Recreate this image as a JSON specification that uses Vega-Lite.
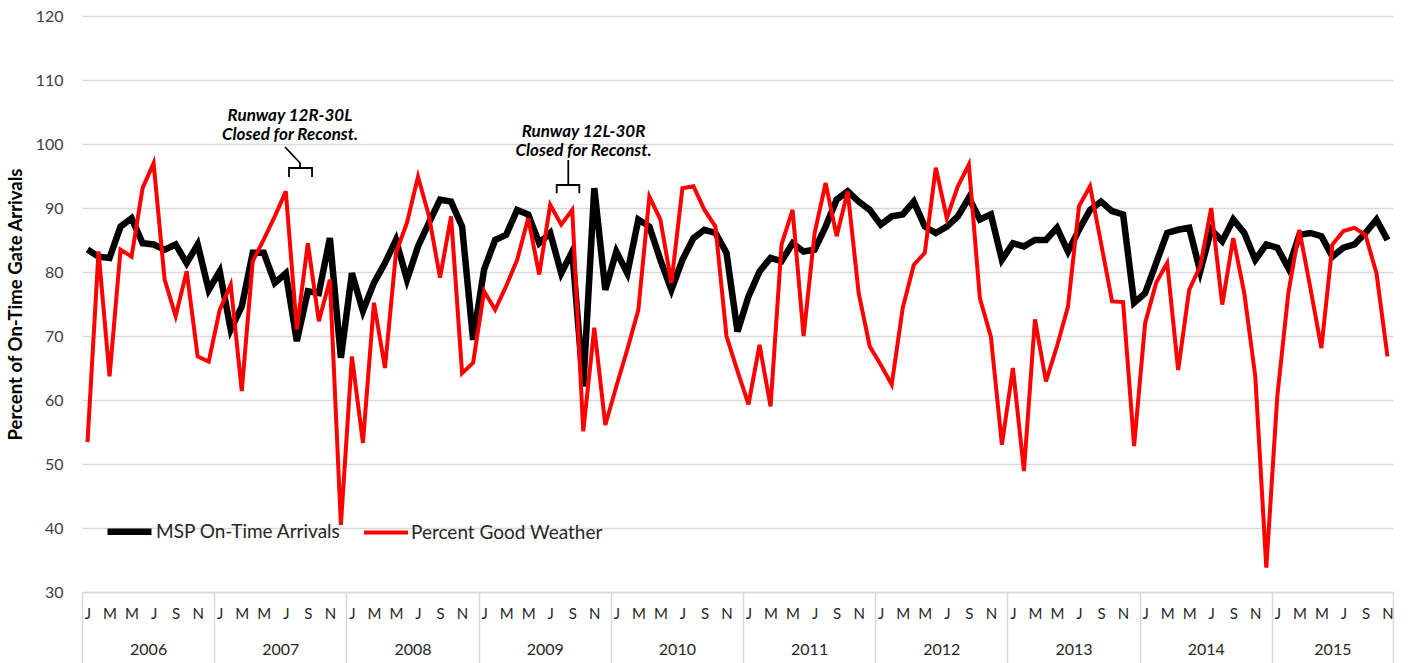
{
  "$schema": "https://vega.github.io/schema/vega-lite/v6.json",
  "width": 1311,
  "height": 576,
  "autosize": "none",
  "padding": {"left": 82, "top": 16, "right": 20, "bottom": 71},
  "background": "white",
  "config": {"view": {"stroke": null}, "font": "Lato"},
  "datasets": {
    "main": [
      {"m":0,"a":83.5,"w":53.4},{"m":1,"a":82.4,"w":83.2},{"m":2,"a":82.2,"w":63.7},{"m":3,"a":87.1,"w":83.5},{"m":4,"a":88.4,"w":82.4},{"m":5,"a":84.5,"w":93.1},{"m":6,"a":84.3,"w":97.0},{"m":7,"a":83.5,"w":78.8},{"m":8,"a":84.3,"w":73.1},{"m":9,"a":81.4,"w":80.1},{"m":10,"a":84.3,"w":66.8},{"m":11,"a":77.2,"w":66.0},
      {"m":12,"a":80.1,"w":74.1},{"m":13,"a":71.0,"w":78.0},{"m":14,"a":74.6,"w":61.4},{"m":15,"a":83.0,"w":81.7},{"m":16,"a":83.0,"w":85.1},{"m":17,"a":78.3,"w":88.7},{"m":18,"a":79.8,"w":92.6},{"m":19,"a":69.2,"w":71.0},{"m":20,"a":77.0,"w":84.5},{"m":21,"a":76.7,"w":72.3},{"m":22,"a":85.3,"w":78.8},{"m":23,"a":66.6,"w":40.5},
      {"m":24,"a":79.8,"w":66.8},{"m":25,"a":73.9,"w":53.3},{"m":26,"a":78.3,"w":75.2},{"m":27,"a":81.4,"w":65.0},{"m":28,"a":85.0,"w":83.0},{"m":29,"a":78.8,"w":87.7},{"m":30,"a":84.0,"w":94.9},{"m":31,"a":87.7,"w":88.7},{"m":32,"a":91.3,"w":79.1},{"m":33,"a":91.0,"w":88.7},{"m":34,"a":87.1,"w":64.2},{"m":35,"a":69.4,"w":65.8},
      {"m":36,"a":80.4,"w":77.0},{"m":37,"a":85.0,"w":74.1},{"m":38,"a":85.8,"w":77.8},{"m":39,"a":89.7,"w":81.9},{"m":40,"a":89.0,"w":88.4},{"m":41,"a":84.5,"w":79.6},{"m":42,"a":86.1,"w":90.5},{"m":43,"a":79.8,"w":87.4},{"m":44,"a":83.2,"w":89.7},{"m":45,"a":62.1,"w":55.1},{"m":46,"a":93.1,"w":71.3},{"m":47,"a":77.2,"w":56.1},
      {"m":48,"a":83.2,"w":62.1},{"m":49,"a":79.8,"w":67.9},{"m":50,"a":88.2,"w":74.1},{"m":51,"a":87.1,"w":91.8},{"m":52,"a":81.9,"w":88.2},{"m":53,"a":77.2,"w":78.3},{"m":54,"a":81.9,"w":93.1},{"m":55,"a":85.3,"w":93.4},{"m":56,"a":86.6,"w":89.7},{"m":57,"a":86.1,"w":87.1},{"m":58,"a":83.0,"w":70.0},{"m":59,"a":70.7,"w":64.5},
      {"m":60,"a":76.2,"w":59.3},{"m":61,"a":80.1,"w":68.6},{"m":62,"a":82.2,"w":59.0},{"m":63,"a":81.7,"w":84.3},{"m":64,"a":84.5,"w":89.7},{"m":65,"a":83.2,"w":70.0},{"m":66,"a":83.5,"w":86.1},{"m":67,"a":87.1,"w":93.9},{"m":68,"a":91.3,"w":85.6},{"m":69,"a":92.6,"w":92.6},{"m":70,"a":91.0,"w":76.7},{"m":71,"a":89.7,"w":68.4},
      {"m":72,"a":87.4,"w":65.5},{"m":73,"a":88.7,"w":62.4},{"m":74,"a":89.0,"w":74.4},{"m":75,"a":91.0,"w":81.1},{"m":76,"a":87.1,"w":83.0},{"m":77,"a":86.1,"w":96.3},{"m":78,"a":87.1,"w":88.4},{"m":79,"a":88.7,"w":93.4},{"m":80,"a":91.6,"w":96.8},{"m":81,"a":88.2,"w":75.9},{"m":82,"a":89.0,"w":69.9},{"m":83,"a":81.9,"w":53.0},
      {"m":84,"a":84.5,"w":65.0},{"m":85,"a":84.0,"w":48.9},{"m":86,"a":85.0,"w":72.6},{"m":87,"a":85.0,"w":62.9},{"m":88,"a":86.9,"w":68.4},{"m":89,"a":83.2,"w":74.6},{"m":90,"a":86.6,"w":90.3},{"m":91,"a":89.7,"w":93.4},{"m":92,"a":91.0,"w":84.5},{"m":93,"a":89.5,"w":75.4},{"m":94,"a":89.0,"w":75.3},{"m":95,"a":75.2,"w":52.8},
      {"m":96,"a":76.7,"w":72.0},{"m":97,"a":81.4,"w":78.3},{"m":98,"a":86.1,"w":81.4},{"m":99,"a":86.6,"w":64.7},{"m":100,"a":86.9,"w":77.2},{"m":101,"a":80.1,"w":80.9},{"m":102,"a":86.6,"w":90.0},{"m":103,"a":84.8,"w":74.9},{"m":104,"a":88.2,"w":85.3},{"m":105,"a":86.1,"w":76.7},{"m":106,"a":81.9,"w":63.7},{"m":107,"a":84.3,"w":33.8},
      {"m":108,"a":83.8,"w":60.6},{"m":109,"a":80.6,"w":76.7},{"m":110,"a":85.8,"w":86.6},{"m":111,"a":86.1,"w":77.5},{"m":112,"a":85.6,"w":68.1},{"m":113,"a":82.4,"w":84.3},{"m":114,"a":83.8,"w":86.4},{"m":115,"a":84.3,"w":86.9},{"m":116,"a":86.1,"w":85.8},{"m":117,"a":88.2,"w":79.8},{"m":118,"a":85.0,"w":66.8}
    ],
    "notes": [
      {"m":18.38,"v":104.35,"t":"Runway 12R-30L"},
      {"m":18.38,"v":101.38,"t":"Closed for Reconst."},
      {"m":45.02,"v":101.8,"t":"Runway 12L-30R"},
      {"m":45.02,"v":98.83,"t":"Closed for Reconst."}
    ],
    "brackets": [
      {"g":"b1a","o":1,"m":18.29,"v":94.84},{"g":"b1a","o":2,"m":18.29,"v":96.25},{"g":"b1a","o":3,"m":20.38,"v":96.25},{"g":"b1a","o":4,"m":20.38,"v":94.84},
      {"g":"b1b","o":1,"m":19.29,"v":96.25},{"g":"b1b","o":2,"m":19.29,"v":97.03},{"g":"b1b","o":3,"m":17.93,"v":99.53},
      {"g":"b2a","o":1,"m":42.59,"v":92.3},{"g":"b2a","o":2,"m":42.59,"v":93.59},{"g":"b2a","o":3,"m":44.64,"v":93.59},{"g":"b2a","o":4,"m":44.64,"v":92.3},
      {"g":"b2b","o":1,"m":43.64,"v":93.59},{"g":"b2b","o":2,"m":43.64,"v":97.5}
    ]
  },
  "encoding": {
    "y": {
      "field": "v", "type": "quantitative",
      "scale": {"domain": [30, 120], "nice": false, "zero": false},
      "axis": {
        "values": [30,40,50,60,70,80,90,100,110,120],
        "title": "Percent of On-Time Gate Arrivals",
        "titleFontSize": 18.5, "titleFontWeight": "bold", "titleColor": "#000000", "titleFont": "Lato", "titlePadding": 10,
        "labelFontSize": 16, "labelColor": "#404040", "labelFont": "Lato", "labelPadding": 19,
        "ticks": false, "domain": false, "grid": true, "gridColor": "#d9d9d9", "gridWidth": 1.5
      }
    }
  },
  "layer": [
    {
      "data": {"name": "main"},
      "transform": [{"fold": ["a", "w"], "as": ["s", "v"]}],
      "mark": {"type": "line"},
      "encoding": {
        "x": {
          "field": "m", "type": "quantitative",
          "scale": {"domain": [-0.5, 118.5], "nice": false, "zero": false},
          "axis": {
            "orient": "bottom", "title": null,
            "values": [0,2,4,6,8,10,12,14,16,18,20,22,24,26,28,30,32,34,36,38,40,42,44,46,48,50,52,54,56,58,60,62,64,66,68,70,72,74,76,78,80,82,84,86,88,90,92,94,96,98,100,102,104,106,108,110,112,114,116,118],
            "labelExpr": "['J','F','M','A','M','J','J','A','S','O','N','D'][datum.value % 12]",
            "ticks": false, "grid": false, "domain": true, "domainColor": "#d9d9d9", "domainWidth": 1.5,
            "labelPadding": 14, "labelFontSize": 15, "labelColor": "#262626", "labelFont": "Lato",
            "labelOverlap": false, "labelBound": false, "labelFlush": false
          }
        },
        "color": {
          "field": "s", "type": "nominal",
          "scale": {"domain": ["a", "w"], "range": ["#000000", "#ff0000"]},
          "legend": {
            "orient": "none", "legendX": 22, "legendY": 490, "direction": "horizontal", "title": null,
            "labelExpr": "datum.label == 'a' ? 'MSP On-Time Arrivals' : 'Percent Good Weather'",
            "symbolType": "stroke", "symbolSize": 1936, "symbolStrokeWidth": 5,
            "labelFontSize": 19, "labelFont": "Lato", "labelColor": "#262626", "labelOffset": 1, "labelLimit": 500, "columnPadding": 15
          }
        },
        "strokeWidth": {
          "field": "s", "type": "ordinal",
          "scale": {"domain": ["a", "w"], "range": [6.5, 4]},
          "legend": null
        }
      }
    },
    {
      "data": {"name": "notes"},
      "mark": {"type": "text", "fontStyle": "italic", "fontWeight": "bold", "fontSize": 17, "font": "Lato", "color": "#000000", "baseline": "middle"},
      "encoding": {
        "x": {
          "field": "m", "type": "quantitative",
          "axis": {
            "orient": "bottom", "title": null, "labels": false, "grid": false, "domain": false,
            "values": [-0.5, 11.5, 23.5, 35.5, 47.5, 59.5, 71.5, 83.5, 95.5, 107.5, 118.5],
            "ticks": true, "tickSize": 71, "tickColor": "#d9d9d9", "tickWidth": 1.5
          }
        },
        "text": {"field": "t"}
      }
    },
    {
      "data": {"name": "brackets"},
      "mark": {"type": "line", "color": "#000000", "strokeWidth": 1.8},
      "encoding": {
        "x": {
          "field": "m", "type": "quantitative",
          "axis": {
            "orient": "bottom", "title": null, "grid": false, "domain": false, "ticks": false,
            "values": [5.5, 17.5, 29.5, 41.5, 53.5, 65.5, 77.5, 89.5, 101.5, 113],
            "labelExpr": "2006 + floor(datum.value / 12)",
            "labelPadding": 49, "labelFontSize": 16, "labelColor": "#262626", "labelFont": "Lato",
            "labelOverlap": false, "labelBound": false, "labelFlush": false
          }
        },
        "detail": {"field": "g"},
        "order": {"field": "o"}
      }
    }
  ],
  "resolve": {"axis": {"x": "independent"}}
}
